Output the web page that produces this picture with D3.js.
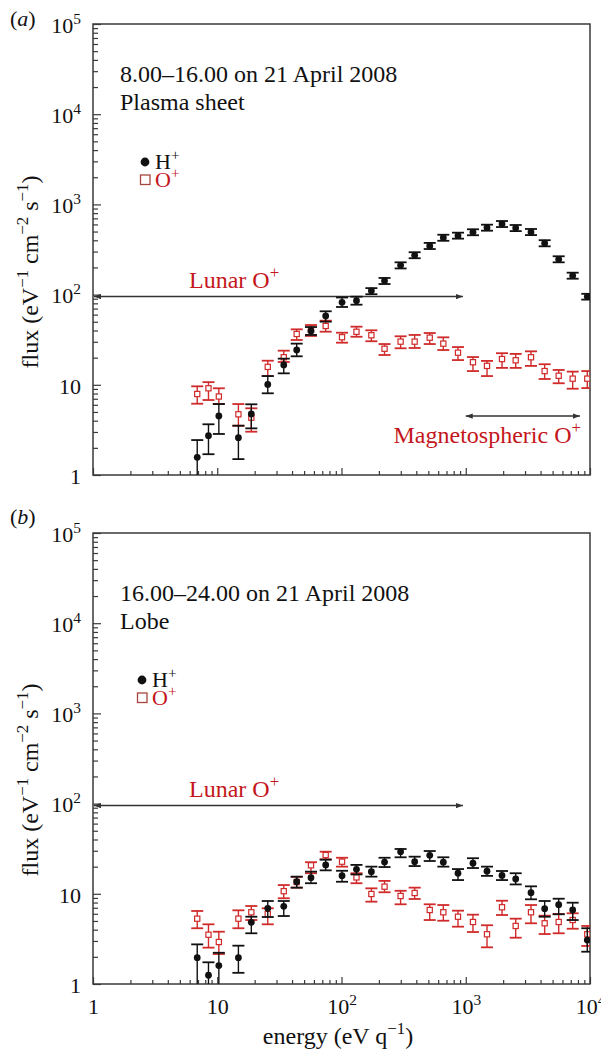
<!DOCTYPE html>
<html>
<head>
<meta charset="utf-8">
<script src="https://cdn.jsdelivr.net/npm/d3@7"></script>
<style>
  body { margin: 0; background: #fff; }
  text { font-family: "Liberation Serif", "Times New Roman", serif; }
</style>
</head>
<body>
<div id="chart"></div>
<script>
// energy bins (eV/q), shared by both panels
const energy = [6.9, 8.5, 10.3, 14.8, 18.8, 25.5, 34.3, 43.6, 56.8, 74.6, 101, 132, 174, 222,
                299, 388, 513, 660, 866, 1143, 1483, 1958, 2523, 3350, 4316, 5598, 7255, 9510];

// panel (a) plasma sheet
const hA   = [1.57, 2.73, 4.51, 2.59, 4.75, 10.1, 16.6, 24.3, 39.5, 57.9, 82.2, 85.6, 110, 142,
              211, 273, 346, 427, 450, 491, 552, 606, 547, 494, 371, 246, 162, 95];
const hALo = [0.8, 1.70, 2.85, 1.50, 3.29, 8.05, 13.4, 20.7, 35.7, 50.1, 72.9, 77.3, 101, 131,
              195, 253, 320, 395, 417, 455, 511, 561, 506, 457, 343, 228, 150, 88];
const hAHi = [2.44, 3.65, 6.12, 3.52, 6.08, 12.5, 19.5, 28.6, 43.7, 65.3, 92.9, 94.8, 118, 153,
              228, 295, 374, 461, 486, 530, 596, 654, 591, 534, 401, 266, 175, 102];
const oA   = [7.91, 9.15, 7.42, 4.71, 4.32, 15.8, 20.2, 36.6, 40.5, 44.9, 33.7, 38.7, 35.4, 25.1,
              30.1, 30.1, 33.3, 28.6, 22.7, 17.8, 16.2, 19.3, 18.7, 20.2, 14.2, 12.6, 11.7, 11.7];
const oALo = [6.17, 6.78, 6.12, 3.52, 3.02, 12.5, 17.9, 31.4, 34.8, 38.8, 29.3, 34.1, 30.4, 21.4,
              25.4, 25.6, 28.3, 24.3, 18.8, 14.2, 12.5, 15.4, 15.4, 16.2, 11.6, 10.4, 9.05, 9.2];
const oAHi = [9.62, 10.7, 9.15, 6.12, 5.49, 18.5, 23.9, 41.2, 46.0, 51.4, 37.8, 44.1, 40.2, 28.3,
              34.5, 35.7, 37.5, 33.6, 26.2, 20.3, 18.4, 22.4, 22.0, 23.5, 16.9, 14.6, 14.0, 14.2];

// panel (b) lobe
const hB   = [1.96, 1.25, 1.60, 1.96, 4.83, 6.91, 7.27, 13.6, 15.1, 20.9, 15.9, 18.7, 17.6, 22.5,
              29.3, 22.7, 26.7, 22.4, 16.9, 21.8, 17.8, 16.0, 14.6, 10.3, 6.84, 7.57, 6.61, 3.07];
const hBLo = [0.8, 0.8, 0.8, 1.33, 3.65, 5.53, 5.67, 11.7, 13.1, 18.2, 13.6, 16.4, 15.5, 19.8,
              25.4, 20.3, 23.1, 20.0, 14.2, 19.3, 15.8, 14.2, 12.7, 8.69, 5.57, 5.93, 5.12, 2.28];
const hBHi = [2.75, 1.74, 2.22, 2.66, 5.57, 8.32, 8.32, 15.5, 17.6, 23.9, 18.0, 20.9, 20.0, 25.1,
              31.4, 25.8, 29.8, 25.4, 18.8, 24.8, 20.0, 17.9, 16.9, 12.1, 8.32, 8.82, 7.97, 4.15];
const oB   = [5.30, 3.52, 2.92, 5.30, 6.24, 5.97, 10.7, 13.5, 20.7, 26.9, 22.7, 15.2, 9.95, 12.0,
              9.45, 10.2, 6.61, 6.24, 5.57, 4.87, 3.56, 7.09, 4.40, 6.24, 4.71, 4.87, 5.12, 3.56];
const oBLo = [4.15, 2.53, 2.15, 4.15, 5.12, 4.59, 8.92, 11.7, 16.9, 24.1, 20.0, 13.1, 8.18, 10.4,
              7.65, 8.76, 5.12, 5.03, 4.32, 3.77, 2.55, 5.82, 3.26, 4.71, 3.58, 3.65, 4.10, 2.64];
const oBHi = [6.45, 4.59, 3.80, 6.56, 7.32, 6.91, 12.5, 15.4, 22.4, 29.3, 25.1, 16.9, 11.5, 13.9,
              10.8, 11.7, 7.65, 7.51, 6.50, 5.87, 4.48, 8.38, 5.30, 7.51, 5.72, 5.97, 6.08, 4.40];

// axis ticks
const xMajor = [1, 10, 100, 1000, 10000];
const yMajor = [1, 10, 100, 1000, 10000, 100000];
const minorK = [2, 3, 4, 5, 6, 7, 8, 9];

// annotation ranges
const lunarRange = [1.0, 950];        // eV/q
const lunarFlux = 95;
const magnetoRange = [1000, 8300];
const magnetoFlux = 4.5;

const W = 601, H = 1053;
const RED = '#d02a2a', TXTRED = '#c4161c', AX = '#3a3a3a', INK = '#111';

const svg = d3.select('#chart').append('svg')
    .attr('width', W).attr('height', H)
    .style('background', '#fff');

const defs = svg.append('defs');
defs.append('marker').attr('id', 'head').attr('viewBox', '0 0 8 6')
    .attr('refX', 8).attr('refY', 3)
    .attr('markerWidth', 7).attr('markerHeight', 5.5)
    .attr('markerUnits', 'userSpaceOnUse').attr('orient', 'auto-start-reverse')
    .append('path').attr('d', 'M0,0L8,3L0,6Z').attr('fill', '#333');

const x = d3.scaleLog().domain([1, 1e4]).range([93, 590]);

// text with superscripts; parts = [[string, isSup], ...]
function rich(t, parts, fs) {
    let up = false;
    parts.forEach(([s, sup]) => {
        const ts = t.append('tspan').text(s);
        if (sup) {
            ts.attr('font-size', fs * 0.7);
            if (!up) { ts.attr('dy', -0.42 * fs); up = true; }
        } else if (up) {
            ts.attr('dy', 0.42 * fs); up = false;
        }
    });
    return t;
}

function powParts(v) {
    if (v === 1) return [['1', false]];
    if (v === 10) return [['10', false]];
    return [['10', false], [String(Math.round(Math.log10(v))), true]];
}

const panels = [
    { id: 'a', top: 24, bottom: 475, tagY: 26,
      title: ['8.00–16.00 on 21 April 2008', 'Plasma sheet'], titleY: 82,
      legX: 145, legY: 162, yLabC: 272,
      h: [hA, hALo, hAHi], o: [oA, oALo, oAHi], magneto: true, xLabels: false },
    { id: 'b', top: 533, bottom: 984, tagY: 524,
      title: ['16.00–24.00 on 21 April 2008', 'Lobe'], titleY: 601,
      legX: 142, legY: 680, yLabC: 780,
      h: [hB, hBLo, hBHi], o: [oB, oBLo, oBHi], magneto: false, xLabels: true }
];

panels.forEach(p => {
    const y = d3.scaleLog().domain([1, 1e5]).range([p.bottom, p.top]);
    const g = svg.append('g');

    // minor/major ticks, inward
    const xMinor = [1, 10, 100, 1000].flatMap(d => minorK.map(k => d * k));
    const yMinor = [1, 10, 100, 1000, 10000].flatMap(d => minorK.map(k => d * k));

    const axX = g.append('g').attr('transform', `translate(0,${p.bottom})`);
    axX.append('g').call(d3.axisBottom(x).tickValues(xMinor).tickSize(-4).tickFormat(''));
    const xMaj = axX.append('g').call(d3.axisBottom(x).tickValues(xMajor).tickSize(-7).tickFormat(''));

    const axY = g.append('g').attr('transform', `translate(${x.range()[0]},0)`);
    axY.append('g').call(d3.axisLeft(y).tickValues(yMinor).tickSize(-5).tickFormat(''));
    const yMaj = axY.append('g').call(d3.axisLeft(y).tickValues(yMajor).tickSize(-8).tickFormat(''));

    g.selectAll('.domain').remove();
    g.selectAll('.tick line').attr('stroke', AX).attr('stroke-width', 1.2);

    // frame
    g.append('rect')
        .attr('x', x.range()[0]).attr('y', p.top)
        .attr('width', x.range()[1] - x.range()[0]).attr('height', p.bottom - p.top)
        .attr('fill', 'none').attr('stroke', AX).attr('stroke-width', 1.5);

    // y tick labels
    yMaj.selectAll('.tick').each(function (d) {
        const t = d3.select(this).append('text')
            .attr('x', -12).attr('dy', '0.38em')
            .attr('text-anchor', 'end').attr('fill', INK)
            .attr('font-size', 22);
        rich(t, powParts(d), 22);
    });

    // x tick labels (bottom panel only)
    if (p.xLabels) {
        xMaj.selectAll('.tick').each(function (d) {
            const t = d3.select(this).append('text')
                .attr('y', 30).attr('text-anchor', 'middle').attr('fill', INK)
                .attr('font-size', 22);
            rich(t, powParts(d), 22);
        });
        rich(svg.append('text').attr('x', 338).attr('y', 1044)
            .attr('text-anchor', 'middle').attr('font-size', 24).attr('fill', INK),
            [['energy (eV q', false], ['−1', true], [')', false]], 24);
    }

    // y axis label
    rich(g.append('text')
        .attr('transform', `translate(38,${p.yLabC}) rotate(-90)`)
        .attr('text-anchor', 'middle').attr('font-size', 24).attr('fill', INK),
        [['flux (eV', false], ['−1', true], [' cm', false], ['−2', true], [' s', false], ['−1', true], [')', false]], 24);

    // panel tag
    const tag = g.append('text').attr('x', 10).attr('y', p.tagY).attr('font-size', 22).attr('fill', INK);
    tag.append('tspan').text('(');
    tag.append('tspan').attr('font-style', 'italic').text(p.id);
    tag.append('tspan').text(')');

    // title lines
    p.title.forEach((s, i) => {
        g.append('text').attr('x', 120).attr('y', p.titleY + i * 27.5)
            .attr('font-size', 24).attr('fill', INK).text(s);
    });

    // legend
    g.append('circle').attr('cx', p.legX).attr('cy', p.legY).attr('r', 4.4).attr('fill', INK);
    rich(g.append('text').attr('x', p.legX + 10).attr('y', p.legY + 7)
        .attr('font-size', 22).attr('fill', INK), [['H', false], ['+', true]], 22);
    g.append('rect').attr('x', p.legX - 4.5).attr('y', p.legY + 13)
        .attr('width', 9.5).attr('height', 9.5)
        .attr('fill', 'none').attr('stroke', '#a8453c').attr('stroke-width', 1.3);
    rich(g.append('text').attr('x', p.legX + 10).attr('y', p.legY + 25)
        .attr('font-size', 22).attr('fill', TXTRED), [['O', false], ['+', true]], 22);

    // lunar O+ arrow
    g.append('line')
        .attr('x1', x(lunarRange[0]) + 1).attr('x2', x(lunarRange[1]))
        .attr('y1', y(lunarFlux)).attr('y2', y(lunarFlux))
        .attr('stroke', '#333').attr('stroke-width', 1.5)
        .attr('marker-start', 'url(#head)').attr('marker-end', 'url(#head)');
    rich(g.append('text').attr('x', 189).attr('y', y(lunarFlux) - 9)
        .attr('font-size', 24).attr('fill', TXTRED), [['Lunar O', false], ['+', true]], 24);

    if (p.magneto) {
        g.append('line')
            .attr('x1', x(magnetoRange[0])).attr('x2', x(magnetoRange[1]))
            .attr('y1', y(magnetoFlux)).attr('y2', y(magnetoFlux))
            .attr('stroke', '#333').attr('stroke-width', 1.5)
            .attr('marker-start', 'url(#head)').attr('marker-end', 'url(#head)');
        rich(g.append('text').attr('x', x(magnetoRange[1]) + 1).attr('y', y(magnetoFlux) + 27)
            .attr('text-anchor', 'end').attr('font-size', 24).attr('fill', TXTRED),
            [['Magnetospheric O', false], ['+', true]], 24);
    }

    // data, clipped to the frame
    const clipId = 'clip-' + p.id;
    defs.append('clipPath').attr('id', clipId).append('rect')
        .attr('x', x.range()[0]).attr('y', p.top)
        .attr('width', x.range()[1] - x.range()[0]).attr('height', p.bottom - p.top);
    const plot = g.append('g').attr('clip-path', `url(#${clipId})`);

    function series(vals, lo, hi, color, isSquare) {
        const rows = energy.map((e, i) => ({ e, v: vals[i], lo: lo[i], hi: hi[i] }));
        const s = plot.append('g');
        const cap = 6;
        const eb = s.selectAll('g.eb').data(rows).join('g').attr('class', 'eb')
            .attr('stroke', color).attr('fill', 'none');
        eb.append('line').attr('x1', d => x(d.e)).attr('x2', d => x(d.e))
            .attr('y1', d => y(d.lo)).attr('y2', d => y(d.hi)).attr('stroke-width', 1.4);
        eb.append('line').attr('x1', d => x(d.e) - cap).attr('x2', d => x(d.e) + cap)
            .attr('y1', d => y(d.lo)).attr('y2', d => y(d.lo)).attr('stroke-width', 1.8);
        eb.append('line').attr('x1', d => x(d.e) - cap).attr('x2', d => x(d.e) + cap)
            .attr('y1', d => y(d.hi)).attr('y2', d => y(d.hi)).attr('stroke-width', 1.8);
        if (isSquare) {
            s.selectAll('rect.m').data(rows).join('rect').attr('class', 'm')
                .attr('x', d => x(d.e) - 2.6).attr('y', d => y(d.v) - 2.6)
                .attr('width', 5.2).attr('height', 5.2)
                .attr('fill', '#fff').attr('stroke', color).attr('stroke-width', 1.2);
        } else {
            s.selectAll('circle.m').data(rows).join('circle').attr('class', 'm')
                .attr('cx', d => x(d.e)).attr('cy', d => y(d.v)).attr('r', 3.4)
                .attr('fill', color);
        }
    }

    series(p.o[0], p.o[1], p.o[2], RED, true);
    series(p.h[0], p.h[1], p.h[2], INK, false);
});
</script>
</body>
</html>
